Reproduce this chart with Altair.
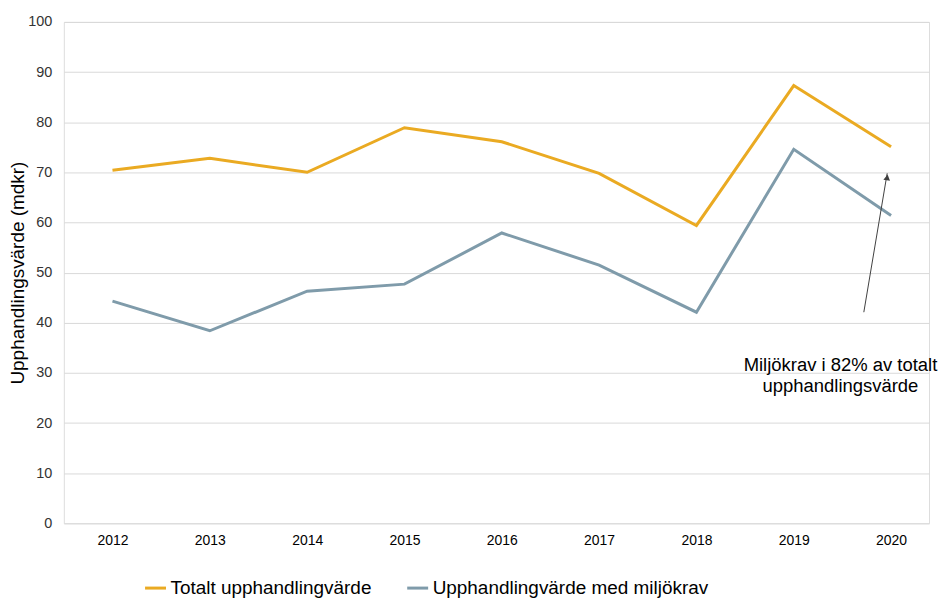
import altair as alt
import pandas as pd
import math

years = [2012, 2013, 2014, 2015, 2016, 2017, 2018, 2019, 2020]
totalt = [70.4, 72.8, 70.0, 78.9, 76.1, 69.8, 59.4, 87.3, 75.1]
miljo = [44.3, 38.4, 46.3, 47.7, 57.9, 51.5, 42.1, 74.6, 61.4]
series_names = ["Totalt upphandlingvärde", "Upphandlingvärde med miljökrav"]
colors = ["#EAAA22", "#7F9BAA"]

ann_text = ["Miljökrav i 82% av totalt", "upphandlingsvärde"]
ann_pos = (2019.48, 31.6)
arrow_tail = (2019.72, 42.1)
arrow_head = (2019.96, 69.8)

rows = []
for y, a, b in zip(years, totalt, miljo):
    rows.append({"year": y, "value": a, "series": series_names[0]})
    rows.append({"year": y, "value": b, "series": series_names[1]})
df = pd.DataFrame(rows)

FONT = "Liberation Sans"
W, H = 868, 503
X_DOMAIN = [2011.5, 2020.39]

x_scale = alt.Scale(domain=X_DOMAIN, nice=False, zero=False)
y_scale = alt.Scale(domain=[0, 100], nice=False)

lines = alt.Chart(df).mark_line(strokeWidth=3).encode(
    x=alt.X("year:Q", scale=x_scale,
            axis=alt.Axis(values=years, format="d", title=None, grid=False,
                          ticks=False, domain=False, labelFontSize=14,
                          labelColor="#000000", labelPadding=10, labelFont=FONT)),
    y=alt.Y("value:Q", scale=y_scale,
            axis=alt.Axis(values=list(range(0, 101, 10)), title="Upphandlingsvärde (mdkr)",
                          titleFontSize=19, titleFontWeight="normal", titleColor="#000000",
                          titleFont=FONT, titlePadding=0,
                          labelFontSize=14.5, labelColor="#333333", labelFont=FONT,
                          labelPadding=12, ticks=False, domain=False,
                          gridColor="#D9D9D9", gridWidth=1)),
    color=alt.Color("series:N", scale=alt.Scale(domain=series_names, range=colors),
                    sort=series_names,
                    legend=alt.Legend(title=None, orient="none", direction="horizontal",
                                      legendX=80, legendY=556, padding=0,
                                      symbolType="stroke", symbolStrokeWidth=3,
                                      symbolSize=441, labelFontSize=19, labelLimit=0,
                                      labelColor="#000000", labelFont=FONT,
                                      labelOffset=3, columnPadding=29, symbolOffset=0)),
)

arrow_df = pd.DataFrame({
    "x": [arrow_tail[0]], "y": [arrow_tail[1]],
    "x2": [arrow_head[0]], "y2": [arrow_head[1]],
})
arrow = alt.Chart(arrow_df).mark_rule(color="#404040", strokeWidth=1).encode(
    x=alt.X("x:Q", scale=x_scale), y=alt.Y("y:Q", scale=y_scale),
    x2="x2:Q", y2="y2:Q",
)
px_per_x = W / (X_DOMAIN[1] - X_DOMAIN[0])
px_per_y = H / 100
dx = (arrow_head[0] - arrow_tail[0]) * px_per_x
dy = (arrow_head[1] - arrow_tail[1]) * px_per_y
angle = math.degrees(math.atan2(dx, dy)) % 360
head_df = pd.DataFrame({"x": [arrow_head[0]], "y": [arrow_head[1] - 0.8]})
head = alt.Chart(head_df).mark_point(shape="triangle-up", filled=True, color="#404040",
                                      size=45, angle=angle, opacity=1).encode(
    x=alt.X("x:Q", scale=x_scale), y=alt.Y("y:Q", scale=y_scale),
)

text_df = pd.DataFrame({"x": [ann_pos[0]], "y": [ann_pos[1]], "t": [ann_text]})
text = alt.Chart(text_df).mark_text(fontSize=18.5, font=FONT, color="#000000",
                                     align="center", baseline="middle",
                                     lineHeight=21).encode(
    x=alt.X("x:Q", scale=x_scale), y=alt.Y("y:Q", scale=y_scale), text="t",
)

chart = alt.layer(lines, arrow, head, text).properties(
    width=W, height=H, padding={"left": 0, "top": 5, "right": 0, "bottom": 0}
).configure_view(stroke=None).configure(font=FONT)

chart.save("out.html", embed_options={"renderer": "svg", "actions": False})
